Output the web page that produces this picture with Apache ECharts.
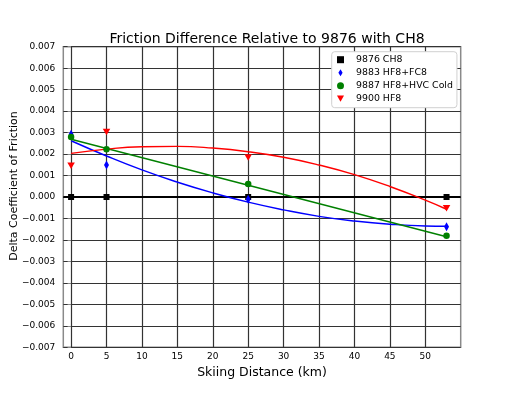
<!DOCTYPE html>
<html>
<head>
<meta charset="utf-8">
<script src="https://cdn.jsdelivr.net/npm/echarts@6/dist/echarts.min.js"></script>
<style>
  html, body { margin: 0; padding: 0; background: #fff; }
  #chart { width: 511px; height: 398px; }
</style>
</head>
<body>
<div id="chart"></div>
<script>
  // measured points (skiing distance in km)
  var distances = [0, 5, 25, 53]
  var ch8 = [0, 0, 0, 0]
  var hf8fc8 = [0.00292, 0.00149, -0.00010, -0.00139]
  var hvcCold = [0.00280, 0.00222, 0.00060, -0.00181]
  var hf8 = [0.00145, 0.00303, 0.00184, -0.00052]

  // trend curves
  var fitX = [0, 5, 10, 15, 20, 25, 30, 35, 40, 45, 50, 53]
  var fitFc8 = [0.00262, 0.00191, 0.00126, 0.00069, 0.00019, -0.00024, -0.00060, -0.00090, -0.00112, -0.00127, -0.00135, -0.00136]
  var fitHf8 = [0.00203, 0.00223, 0.00234, 0.00236, 0.00228, 0.00211, 0.00185, 0.00149, 0.00104, 0.00049, -0.00015, -0.00057]
  var hvcFitX = [0, 53]
  var hvcFit = [0.00269, -0.00185]

  var xTicks = [0, 5, 10, 15, 20, 25, 30, 35, 40, 45, 50]

  var FONT = 'DejaVu Sans'
  var triDown = 'path://M0,0L10,0L5,9Z'
  var thinDiamond = 'path://M3,0L6,5L3,10L0,5Z'
  var square = 'path://M0,0H10V10H0Z'

  function pairs (xs, ys) {
    return xs.map(function (x, i) { return [x, ys[i]] })
  }

  var chart = echarts.init(document.getElementById('chart'), null, { renderer: 'canvas' })

  var option = {
    animation: false,
    title: {
      text: 'Friction Difference Relative to 9876 with CH8',
      left: 262,
      textAlign: 'center',
      top: 27,
      textStyle: { fontFamily: FONT, fontSize: 14, fontWeight: 'normal', color: '#000' }
    },
    legend: {
      orient: 'vertical',
      left: 331.7,
      top: 51.7,
      padding: [3, 4, 4, 5.3],
      itemGap: 3,
      itemWidth: 7,
      itemHeight: 7,
      backgroundColor: '#fff',
      borderColor: '#d0d0d0',
      borderWidth: 1,
      borderRadius: 3,
      textStyle: { fontFamily: FONT, fontSize: 9.4, color: '#000', lineHeight: 10, padding: [0, 0, 0, 7] },
      data: [
        { name: '9876 CH8', icon: square },
        { name: '9883 HF8+FC8', icon: thinDiamond },
        { name: '9887 HF8+HVC Cold', icon: 'circle' },
        { name: '9900 HF8', icon: triDown }
      ]
    },
    grid: {
      left: 63.3,
      right: 50.3,
      top: 46.7,
      bottom: 50.7,
      show: true,
      borderColor: '#8a8a8a',
      borderWidth: 1.5,
      backgroundColor: 'transparent',
      outerBoundsMode: 'none'
    },
    xAxis: {
      type: 'value',
      min: -1.1,
      max: 55,
      name: 'Skiing Distance (km)',
      nameLocation: 'middle',
      nameGap: 18,
      nameTextStyle: { fontFamily: FONT, fontSize: 12.5, color: '#000' },
      axisLine: { show: false },
      axisTick: { show: true, inside: false, length: 3.5, customValues: xTicks, lineStyle: { color: '#8a8a8a', width: 1 } },
      axisLabel: { customValues: xTicks, margin: 5, fontFamily: FONT, fontSize: 9, color: '#000' },
      splitLine: { show: false }
    },
    yAxis: {
      type: 'value',
      min: -0.007,
      max: 0.007,
      interval: 0.001,
      name: 'Delta Coefficient of Friction',
      nameLocation: 'middle',
      nameRotate: 90,
      nameGap: 44,
      nameMoveOverlap: false,
      nameTextStyle: { fontFamily: FONT, fontSize: 11, color: '#000', padding: [0, 0, 0, 22] },
      axisLine: { show: false },
      axisTick: { show: true, inside: false, length: 3.5, lineStyle: { color: '#8a8a8a', width: 1 } },
      axisLabel: {
        margin: 8,
        fontFamily: FONT,
        fontSize: 9,
        color: '#000',
        formatter: function (v) {
          if (Math.abs(v) < 1e-9) v = 0
          return v.toFixed(3).replace('-', '\u2212')
        }
      },
      splitLine: { show: true, lineStyle: { color: '#333', width: 1.2 } }
    },
    series: [
      {
        // vertical grid lines + zero line
        type: 'line',
        data: [],
        silent: true,
        z: 1,
        markLine: {
          z: 1,
          silent: true,
          symbol: ['none', 'none'],
          label: { show: false },
          animation: false,
          lineStyle: { color: '#333', width: 1.2, type: 'solid' },
          emphasis: { disabled: true },
          data: xTicks.map(function (v) { return { xAxis: v } }).concat([
            { yAxis: 0, lineStyle: { color: '#000', width: 2 } }
          ])
        }
      },
      {
        type: 'line',
        data: pairs(fitX, fitFc8),
        smooth: true,
        showSymbol: false,
        z: 3,
        lineStyle: { color: '#0000ff', width: 1.4 }
      },
      {
        type: 'line',
        data: pairs(hvcFitX, hvcFit),
        showSymbol: false,
        z: 3,
        lineStyle: { color: '#008000', width: 1.4 }
      },
      {
        type: 'line',
        data: pairs(fitX, fitHf8),
        smooth: true,
        showSymbol: false,
        z: 3,
        lineStyle: { color: '#ff0000', width: 1.4 }
      },
      {
        name: '9876 CH8',
        type: 'scatter',
        data: pairs(distances, ch8),
        symbol: square,
        symbolSize: 6,
        z: 4,
        itemStyle: { color: '#000', opacity: 1 }
      },
      {
        name: '9883 HF8+FC8',
        type: 'scatter',
        data: pairs(distances, hf8fc8),
        symbol: thinDiamond,
        symbolSize: [5, 9],
        z: 4,
        itemStyle: { color: '#0000ff', opacity: 1 }
      },
      {
        name: '9887 HF8+HVC Cold',
        type: 'scatter',
        data: pairs(distances, hvcCold),
        symbol: 'circle',
        symbolSize: 6.5,
        z: 4,
        itemStyle: { color: '#008000', opacity: 1 }
      },
      {
        name: '9900 HF8',
        type: 'scatter',
        data: pairs(distances, hf8),
        symbol: triDown,
        symbolSize: [7.5, 6.5],
        z: 4,
        itemStyle: { color: '#ff0000', opacity: 1 }
      }
    ]
  }

  chart.setOption(option)
</script>
</body>
</html>
